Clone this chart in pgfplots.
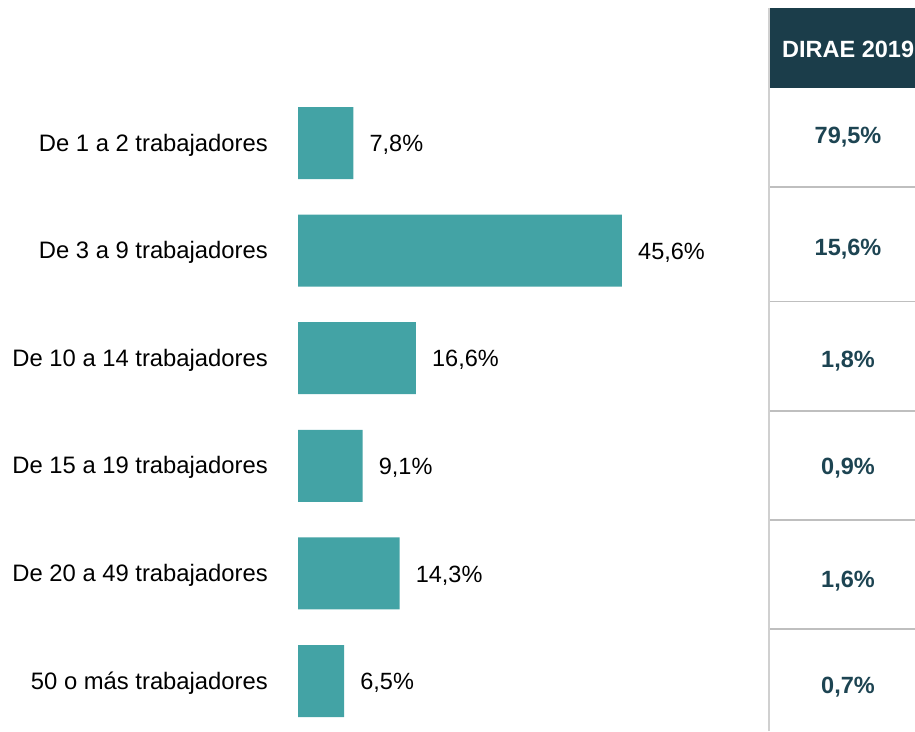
\documentclass[border=0pt]{standalone}
\usepackage{pgfplots}
\pgfplotsset{compat=1.18}
\usepackage{fontspec}
\setmainfont{Liberation Sans}
\definecolor{barc}{HTML}{43A3A5}
\definecolor{headc}{HTML}{1B3D4A}
\definecolor{valc}{HTML}{1D4452}
\definecolor{linec}{HTML}{BFBFBF}
\definecolor{vlinec}{HTML}{D0D0D0}
\begin{document}
\fontsize{23.5}{28}\selectfont
\begin{tikzpicture}[x=1pt,y=1pt]
\clip (0,0) rectangle (915,731);
\begin{axis}[
  at={(298pt,641.8pt)}, anchor=north west,
  scale only axis, width=426.3pt, height=645.6pt,
  xmin=0, xmax=60, ymin=-0.5, ymax=5.5, y dir=reverse,
  axis line style={draw=none},
  xtick=\empty,
  ytick={0,1,2,3,4,5},
  yticklabels={De 1 a 2 trabajadores, De 3 a 9 trabajadores, De 10 a 14 trabajadores, De 15 a 19 trabajadores, De 20 a 49 trabajadores, 50 o más trabajadores},
  major tick length=0pt,
  yticklabel style={font=\fontsize{23.8}{28}\selectfont, anchor=east, inner sep=0pt, xshift=-30pt, yshift=-2pt},
  xbar, bar width=72pt, bar shift=0pt,
  clip=false,
  /pgf/number format/assume math mode=true,
  nodes near coords={\pgfmathprintnumber[fixed,fixed zerofill,precision=1,use comma]{\pgfplotspointmeta}\%},
  nodes near coords style={font=\fontsize{23.5}{28}\selectfont, anchor=west, inner sep=0pt, xshift=16pt, yshift=-2pt, text=black},
]
\addplot[fill=barc, draw=none] coordinates {
(7.8,0) (45.6,1) (16.6,2) (9.1,3) (14.3,4) (6.5,5)
};
\end{axis}
% table on the right
\fill[headc] (770,643) rectangle (920,723);
\node[anchor=base west, inner sep=0pt, text=white, font=\fontsize{23.5}{28}\selectfont\bfseries] at (782,673) {DIRAE 2019};
\draw[vlinec, line width=2pt] (769,0) -- (769,723);
\foreach \yy in {544,429.5,320,211,102} {
  \draw[linec, line width=1.3pt] (770,\yy) -- (915,\yy);
}
\begin{scope}[every node/.style={anchor=base, inner sep=0pt, text=valc, font=\fontsize{23.5}{28}\selectfont\bfseries}]
\node at (848,587) {79,5\%};
\node at (848,475) {15,6\%};
\node at (848,363) {1,8\%};
\node at (848,256) {0,9\%};
\node at (848,144) {1,6\%};
\node at (848,38) {0,7\%};
\end{scope}
\end{tikzpicture}
\end{document}
